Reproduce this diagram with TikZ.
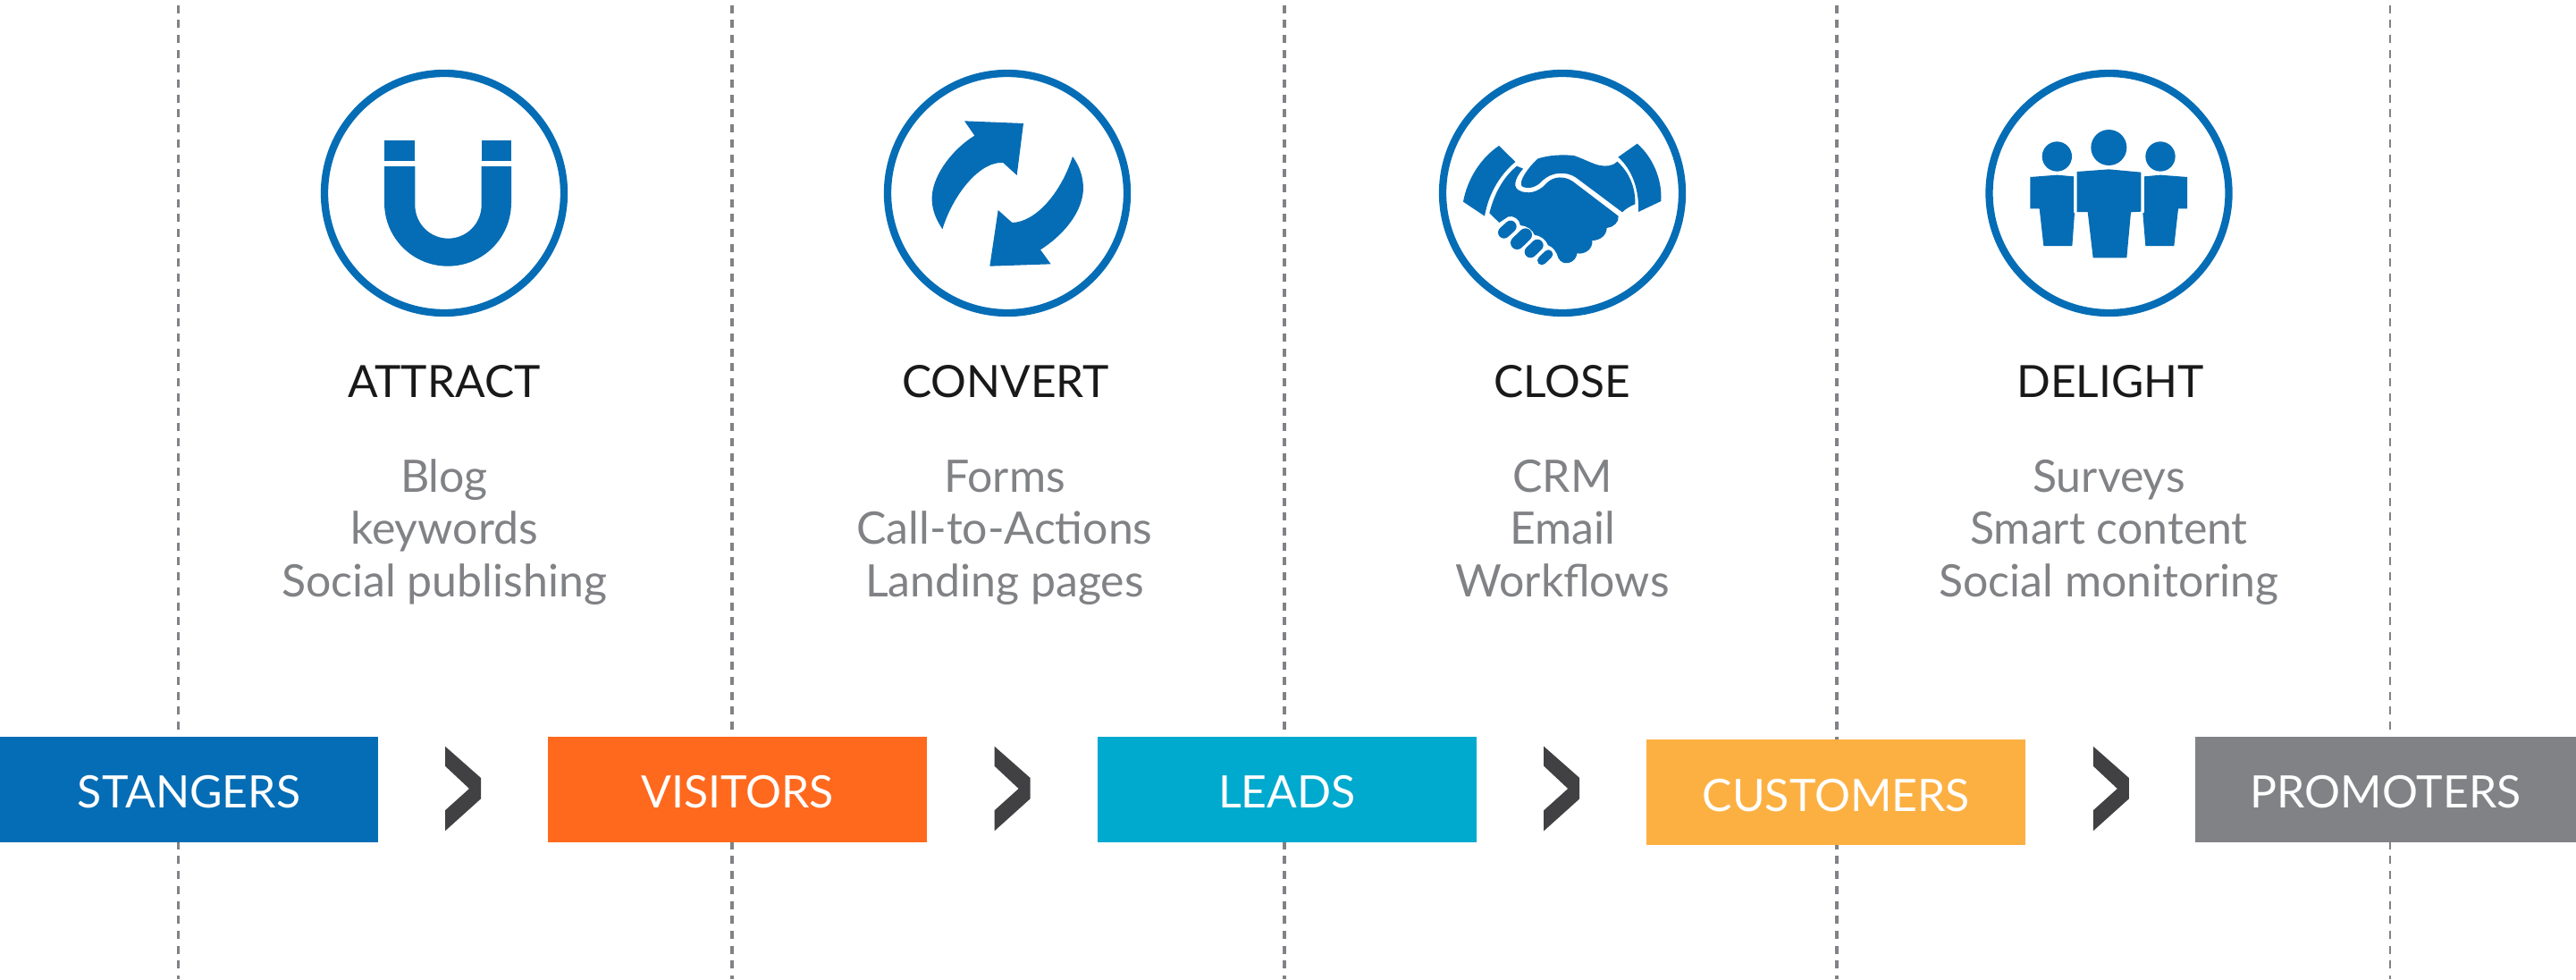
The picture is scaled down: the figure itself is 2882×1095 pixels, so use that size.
\documentclass[tikz,border=0pt]{standalone}
\usepackage{fontspec}
\setmainfont{Lato}
\definecolor{iblue}{HTML}{056DB5}
\definecolor{iorange}{HTML}{FF691D}
\definecolor{icyan}{HTML}{00A9CE}
\definecolor{iamber}{HTML}{FDB042}
\definecolor{igray}{HTML}{808285}
\definecolor{ichev}{HTML}{414042}
\tikzset{
  ring/.style={circle,draw=iblue,line width=8.3pt,fill=white,minimum size=268pt,inner sep=0pt,outer sep=0pt},
  zoomat/.style args={#1,#2}{shift={(#1pt,-#2pt)},x=.33333pt,y=-.33333pt},
  iconfill/.style={fill=iblue,draw=none},
  guide/.style={draw=igray,line width=#1,dash pattern=on 9pt off 7.7pt},
  stage/.style={draw=none,inner sep=0pt,outer sep=0pt,text=white,font=\fontsize{50}{50}\selectfont,anchor=center,minimum height=118pt,text height=42.4pt,text depth=0pt},
  head/.style={inner sep=0pt,text=black!90,font=\fontsize{49.7}{50}\selectfont,anchor=base},
  items/.style={inner sep=0pt,text=igray,font=\fontsize{50}{50}\selectfont,anchor=base},
  chev/.style={fill=ichev,draw=none}
}
\begin{document}
\begin{tikzpicture}[x=1pt,y=-1pt]
\useasboundingbox (0,0) rectangle (2882,1095);
\fill[white] (0,0) rectangle (2882,1095);
% guides
\coordinate (g1a) at (199.7,-11.2); \coordinate (g1b) at (199.7,1095);
\coordinate (g2a) at (818.7,-11.2); \coordinate (g2b) at (818.7,1095);
\coordinate (g3a) at (1437,-11.2); \coordinate (g3b) at (1437,1095);
\coordinate (g4a) at (2054.5,-11.2); \coordinate (g4b) at (2054.5,1095);
\coordinate (g5a) at (2674,-11.2); \coordinate (g5b) at (2674,1095);
\draw[guide=2.5pt] (g1a) -- (g1b);
\draw[guide=4pt] (g2a) -- (g2b);
\draw[guide=4pt] (g3a) -- (g3b);
\draw[guide=4pt] (g4a) -- (g4b);
\draw[guide=2.5pt] (g5a) -- (g5b);
% rings
\node[ring] (r1) at (497,216) {};
\node[ring] (r2) at (1127,216) {};
\node[ring] (r3) at (1748,216) {};
\node[ring] (r4) at (2359.5,216) {};
% magnet
\begin{scope}[zoomat={340,120}]
\fill[iconfill] (270,110) rectangle (373,179);
\fill[iconfill] (596,110) rectangle (696,179);
\fill[iconfill] (270,198) -- (270,320) .. controls (270,438) and (365,533) .. (483,533)
  .. controls (601,533) and (696,438) .. (696,320) -- (696,198) -- (596,198) -- (596,328)
  .. controls (596,390) and (546,440) .. (484.5,440) .. controls (423,440) and (373,390) .. (373,328)
  -- (373,198) -- cycle;
\end{scope}
% arrows
\begin{scope}[zoomat={970,120}]
\fill[iconfill] (327,46) -- (525,54) -- (503,228) -- (457,186)
  .. controls (380,180) and (290,290) .. (253,409)
  .. controls (228,370) and (217,340) .. (218,300)
  .. controls (222,220) and (295,135) .. (361,95) -- cycle;
\fill[iconfill] (617,526) -- (412,533) -- (440,345) -- (487,387)
  .. controls (565,385) and (650,290) .. (690,165)
  .. controls (715,200) and (726,235) .. (726,275)
  .. controls (722,360) and (650,435) .. (582,478) -- cycle;
\end{scope}
% handshake
\begin{scope}[zoomat={1600,120}]
\fill[iconfill] (231,129) -- (286,183) .. controls (230,230) and (195,295) .. (183,365) -- (111,317)
  .. controls (125,240) and (170,170) .. (231,129) -- cycle;
\fill[iconfill] (695,122) .. controls (745,165) and (780,240) .. (775,315) -- (699,351)
  .. controls (702,280) and (680,210) .. (631,167) -- cycle;
\fill[iconfill] (362,172) .. controls (400,160) and (445,158) .. (483,162)
  .. controls (520,175) and (545,190) .. (570,195) .. controls (590,199) and (615,197) .. (628,182)
  .. controls (665,215) and (690,265) .. (688,325) .. controls (670,332) and (655,342) .. (645,352)
  -- (490,236) .. controls (460,215) and (410,215) .. (378,245)
  .. controls (355,272) and (325,275) .. (308,265) .. controls (295,250) and (330,200) .. (362,172) -- cycle;
\fill[iconfill] (291,197) -- (312,206) .. controls (290,232) and (275,262) .. (295,277)
  .. controls (325,295) and (365,285) .. (390,255) .. controls (415,230) and (450,230) .. (478,248)
  -- (632,365) .. controls (635,385) and (615,403) .. (593,405)
  .. controls (592,430) and (570,447) .. (544,447) .. controls (547,475) and (520,495) .. (493,490)
  .. controls (490,520) and (455,532) .. (437,515) -- (430,505) .. controls (425,485) and (412,468) .. (396,463)
  .. controls (390,445) and (370,430) .. (350,428) .. controls (345,412) and (325,397) .. (303,396)
  .. controls (300,375) and (280,362) .. (262,367) -- (232,387) -- (199,355)
  .. controls (215,290) and (245,235) .. (291,197) -- cycle;
\draw[iblue,line width=13.3pt,line cap=round] (248,420) -- (270,400);
\draw[iblue,line width=14.7pt,line cap=round] (292,455) -- (320,428);
\draw[iblue,line width=13.3pt,line cap=round] (337,485) -- (360,463);
\draw[iblue,line width=10pt,line cap=round] (375,514) -- (397,493);
\end{scope}
% people
\begin{scope}[zoomat={2210,120}]
\fill[iconfill] (448,135) circle[radius=60];
\fill[iconfill] (274,165) circle[radius=50];
\fill[iconfill] (621,165) circle[radius=50];
\fill[iconfill] (341,216) -- (448,208) -- (556,218) -- (556,350) -- (522,352) -- (508,505) -- (395,505) -- (377,351) -- (341,351) -- cycle;
\fill[iconfill] (184,234) -- (274,227) -- (330,232) -- (330,352) -- (333,356) -- (325,465) -- (229,465) -- (215,340) -- (184,340) -- cycle;
\fill[iconfill] (567,232) -- (621,227) -- (711,234) -- (711,340) -- (681,340) -- (667,465) -- (571,465) -- (562,356) -- (567,352) -- cycle;
\end{scope}
% headings
\node[head] (h1) at (497,444) {ATTRACT};
\node[head] (h2) at (1125,444) {CONVERT};
\node[head] (h3) at (1748,444) {CLOSE};
\node[head] (h4) at (2361,444) {DELIGHT};
% items
\foreach \nm/\cx/\a/\b/\c in {i1/497/Blog/keywords/Social publishing,i2/1124/Forms/Call-to-Actions/Landing pages,i3/1748/CRM/Email/Workflows,i4/2359.5/Surveys/Smart content/Social monitoring}{
  \node[items] (\nm a) at (\cx,550) {\a};
  \node[items] (\nm b) at (\cx,608.5) {\b};
  \node[items] (\nm c) at (\cx,667) {\c};
}
% stages
\node[stage,fill=iblue,minimum width=423pt] (s1) at (211.5,882.5) {STANGERS};
\node[stage,fill=iorange,minimum width=424pt] (s2) at (825,882.5) {VISITORS};
\node[stage,fill=icyan,minimum width=424pt] (s3) at (1440,882.5) {LEADS};
\node[stage,fill=iamber,minimum width=424.5pt] (s4) at (2054.2,885.8) {CUSTOMERS};
\node[stage,fill=igray,minimum width=426pt] (s5) at (2669,882.5) {PROMOTERS};
% chevrons
\foreach \cx in {0,614.6,1229.2,1843.8}{
  \fill[chev,shift={(\cx pt,0pt)}] (498,834.7) -- (538,870) -- (538,893.3) -- (498,929.3) -- (498,906.3) -- (525,882) -- (498,856.7) -- cycle;
}
\end{tikzpicture}
\end{document}
